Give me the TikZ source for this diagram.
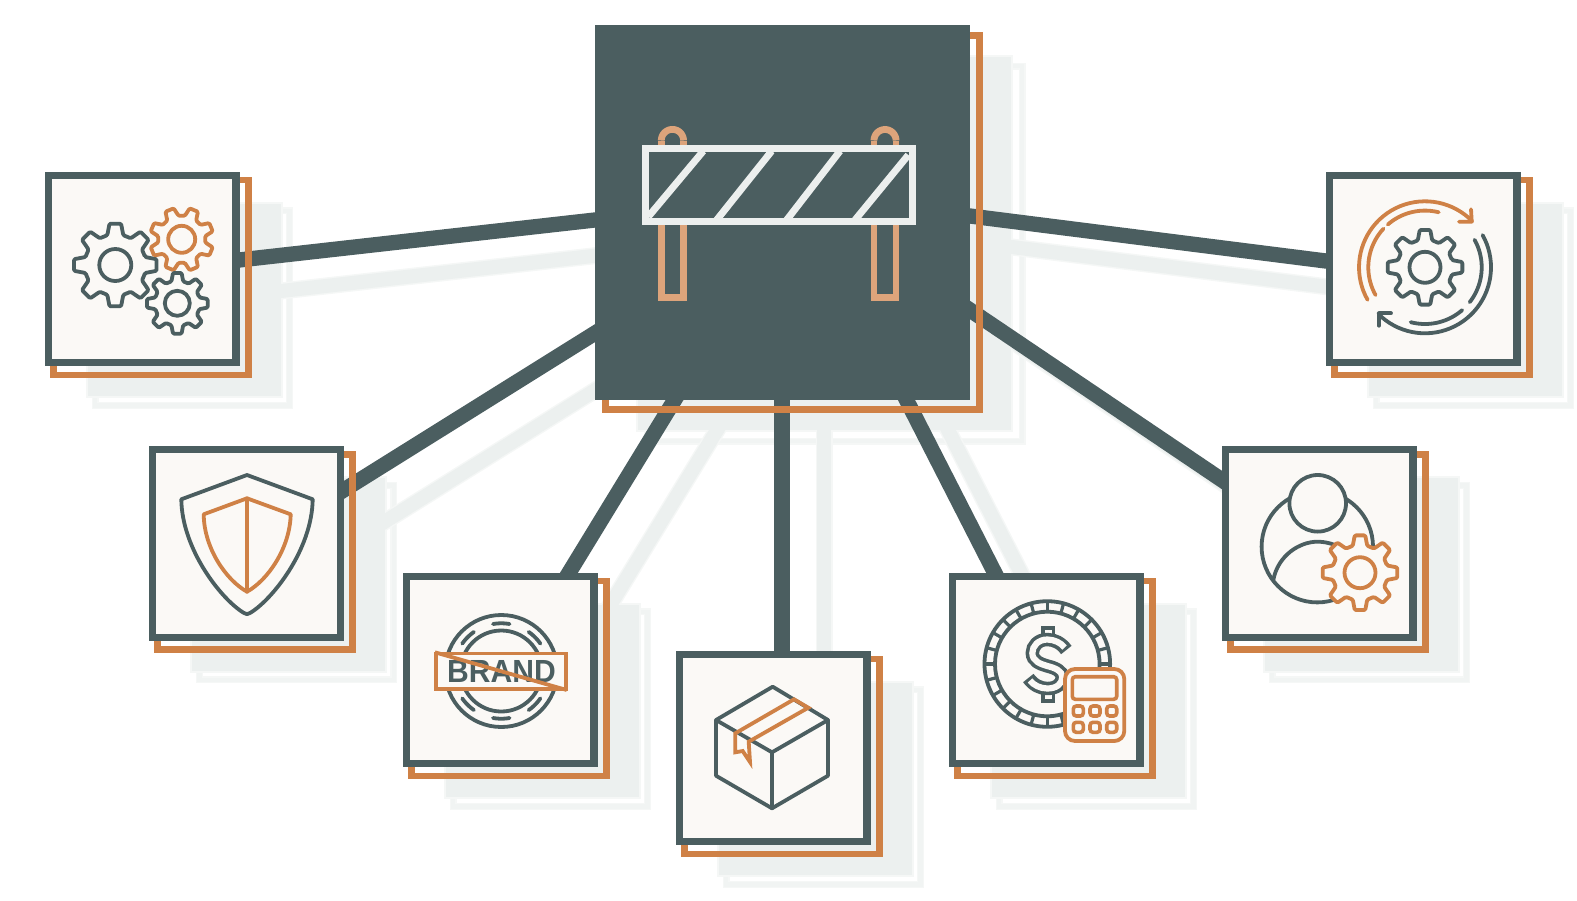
\documentclass[tikz,border=0pt]{standalone}
\usepackage{fontspec}
\setmainfont{Liberation Sans}
\usetikzlibrary{calc}
\definecolor{slate}{HTML}{4B5E60}
\definecolor{rust}{HTML}{CF8146}
\definecolor{tan}{HTML}{DDA47B}
\definecolor{cream}{HTML}{FBF9F6}
\definecolor{pale}{HTML}{ECF0EF}
\definecolor{paler}{HTML}{F1F4F3}
\definecolor{softedge}{HTML}{F5F7F6}
\definecolor{ice}{HTML}{ECEFEE}
\pgfdeclarelayer{bg}
\pgfsetlayers{bg,main}
\tikzset{
  card/.style={rectangle,draw=slate,fill=cream,line width=7.2pt,minimum size=187.3pt,inner sep=0pt},
  hubbox/.style={rectangle,fill=slate,minimum size=375pt,inner sep=0pt,outer sep=0pt},
  link/.style={draw=slate,line width=15.3pt},
  shadelink/.style={draw=pale,line width=14pt},
  softlink/.style={draw=softedge,line width=17pt},
  ink/.style={draw=slate,line width=3.8pt,line join=round,line cap=round},
  rustink/.style={draw=rust,line width=3.8pt,line join=round,line cap=round},
  offset frame/.style={draw=rust,line width=6.6pt}
}
% gear: cx, cy, outer radius, hole radius, rotation, style
\newcommand\cog[6]{%
  \begin{scope}[shift={(#1,#2)}]
    \draw[#6,fill=cream,rounded corners=1.2pt]
      (#5-15:0.74*#3) \foreach \a in {0,45,...,315} {
        -- (\a+#5-15:0.74*#3) -- (\a+#5-8:#3) -- (\a+#5+8:#3) -- (\a+#5+15:0.74*#3)
      } -- cycle;
    \draw[#6] (0,0) circle[radius=#4pt];
  \end{scope}}
% arc as plot: style, cx, cy, r, from, to
\newcommand\bow[6]{\draw[#1] plot[variable=\t,domain=#5:#6,samples=40] ({#2+#4*cos(\t)},{#3+#4*sin(\t)});}
% all connectors in one style, shifted
\newcommand\alllinks[2]{%
  \draw[#1] ($(gears.east)+(-14.5,-7.4)+(#2)$) -- ($(hub.west)+(15,5.8)+(#2)$);
  \draw[#1] ($(shield.east)+(-14,-44.75)+(#2)$) -- ($(hub.west)+(15,111.25)+(#2)$);
  \draw[#1] ($(brand.north)+(58.25,17)+(#2)$) -- ($(hub.south)+(-98.8,-15)+(#2)$);
  \draw[#1] ($(box.north)+(8.65,10)+(#2)$) -- ($(hub.south)+(-0.5,-10)+(#2)$);
  \draw[#1] ($(coin.north)+(-42.95,17)+(#2)$) -- ($(hub.south)+(116.35,-15)+(#2)$);
  \draw[#1] ($(person.west)+(14,-53.95)+(#2)$) -- ($(hub.east)+(-15,87.4)+(#2)$);
  \draw[#1] ($(cycle.west)+(14,-6.2)+(#2)$) -- ($(hub.east)+(-15,1.6)+(#2)$);
}
\begin{document}
\begin{tikzpicture}[x=1pt,y=-1pt]
\useasboundingbox (0,0) rectangle (1577,900);

% main boxes
\node[hubbox] (hub) at (782.5,212.5) {};
\node[card] (gears) at (142.25,269) {};
\node[card] (shield) at (246.5,543.5) {};
\node[card] (brand) at (500.35,670) {};
\node[card] (box) at (773.35,748) {};
\node[card] (coin) at (1046.35,670) {};
\node[card] (person) at (1319.35,543.5) {};
\node[card] (cycle) at (1423.35,269) {};

\begin{pgfonlayer}{bg}
  % shadows
  \foreach \n in {gears,shield,brand,box,coin,person,cycle} {
    \draw[draw=softedge,line width=7pt] ($(\n.north west)+(50,39)$) rectangle ($(\n.south east)+(50,39)$);
    \draw[draw=paler,line width=4.5pt] ($(\n.north west)+(50,39)$) rectangle ($(\n.south east)+(50,39)$);
  }
  \draw[draw=softedge,line width=7pt] ($(hub.north west)+(52,41)$) rectangle ($(hub.south east)+(52,41)$);
  \draw[draw=paler,line width=4.5pt] ($(hub.north west)+(52,41)$) rectangle ($(hub.south east)+(52,41)$);
  \alllinks{softlink}{42,31}
  \foreach \n in {gears,shield,brand,box,coin,person,cycle} {
    \fill[pale,draw=softedge,line width=2pt] ($(\n.north west)+(42,31)$) rectangle ($(\n.south east)+(42,31)$);
  }
  \fill[pale,draw=softedge,line width=2pt] ($(hub.north west)+(42,31)$) rectangle ($(hub.south east)+(42,31)$);
  \alllinks{shadelink}{42,31}
  % connectors
  \alllinks{link}{0,0}
  % offset frames
  \foreach \n in {gears,shield,brand,box,coin,person,cycle} {
    \draw[offset frame] ($(\n.north west)+(8.25,8.25)$) rectangle ($(\n.south east)+(8.75,8.75)$);
  }
  \draw[offset frame] ($(hub.north west)+(10.25,10.25)$) rectangle ($(hub.south east)+(9.75,9.75)$);
\end{pgfonlayer}

% barrier
\begin{scope}[line width=6.8pt]
  \draw[tan] (661.3,225) -- (661.3,297.7) -- (683.5,297.7) -- (683.5,225);
  \draw[tan] (874,225) -- (874,297.7) -- (896,297.7) -- (896,225);
  \draw[tan] (661.3,146) -- (661.3,140.5);
  \draw[tan] (683.5,146) -- (683.5,140.5);
  \draw[tan] (874,146) -- (874,140.5);
  \draw[tan] (896,146) -- (896,140.5);
  \bow{tan}{672.4}{140.5}{11.1}{180}{360}
  \bow{tan}{885}{140.5}{11}{180}{360}
\end{scope}
\begin{scope}[line width=7pt]
  \draw[ice] (645,148.3) rectangle (912,221.7);
  \draw[ice] (648.3,216.7) -- (703.3,151);
  \draw[ice] (716.7,220) -- (771.7,151);
  \draw[ice] (786.7,220) -- (840,151);
  \draw[ice] (855,220) -- (908.3,155);
\end{scope}

% gears icon
\cog{115.3}{265}{41.7}{16}{0}{ink}
\cog{181.7}{239.3}{32}{13.5}{22.5}{rustink}
\cog{177.3}{303.3}{30.7}{12.5}{0}{ink}

% shield icon
\draw[ink] (247,475) -- (312.7,499.3) .. controls (312,550) and (272,600) .. (250,613) .. controls (248,614.5) and (246,614.5) .. (244,613) .. controls (222,600) and (182,550) .. (181.3,499.3) -- cycle;
\draw[rustink] (247,498.3) -- (290.7,514.3) .. controls (290,548) and (268,580) .. (247,591.7) .. controls (226,580) and (204,548) .. (203.7,514.3) -- cycle;
\draw[rustink] (247,498.3) -- (247,591.7);

% brand icon
\draw[ink] (501.3,671) circle[radius=56pt];
\draw[ink] (501.3,671) circle[radius=40.5pt];
\foreach \a in {0,45,...,315} {
  \bow{ink}{501.3}{671}{47.7}{\a-10}{\a+10}
}
\draw[draw=rust,line width=3.8pt,fill=cream] (436,653.5) rectangle (566,689);
\node[inner sep=0pt,text=slate,font=\fontsize{32}{32}\selectfont\bfseries,xscale=0.94] (brandword) at (501.5,671) {BRAND};
\draw[draw=rust,line width=3.8pt] (435,652.3) -- (566.7,690);

% box icon
\draw[ink] (772.7,686.7) -- (828,720) -- (772,752.3) -- (716,720) -- cycle;
\draw[ink] (716,720) -- (716,775.7) -- (772,808.3) -- (828,775.7) -- (828,720);
\draw[ink] (772,752.3) -- (772,808.3);
\draw[rustink,line join=miter,line cap=butt] (794,699.3) -- (808.3,707.7) -- (748.7,741.7) -- (750,762) -- (742.7,751) -- (735.3,752.3) -- (735.3,733.3) -- cycle;

% coin icon
\begin{scope}[shift={(1047.3,664)}]
  \draw[ink] (0,0) circle[radius=62.8pt];
  \draw[ink] (0,0) circle[radius=52.3pt];
  \foreach \a in {0,15,...,345} { \draw[draw=slate,line width=3.2pt] (\a:52.3) -- (\a:62.8); }
  \draw[draw=slate,line width=3.6pt,fill=cream] (-4.5,-36) rectangle (6,-26);
  \draw[draw=slate,line width=3.6pt,fill=cream] (-4.5,26) rectangle (6,37);
  \draw[draw=slate,line width=13.4pt] (19,-14) .. controls (14,-21) and (7,-24.5) .. (0,-24.5) .. controls (-9,-24.5) and (-15,-18) .. (-15,-11) .. controls (-15,-3) and (-7,0) .. (0,2) .. controls (8,4) and (15,7) .. (15,13) .. controls (15,20) and (9,24.5) .. (0,24.5) .. controls (-7,24.5) and (-14,21) .. (-19,14);
  \draw[draw=cream,line width=6.2pt,shorten <=3pt,shorten >=3pt] (19,-14) .. controls (14,-21) and (7,-24.5) .. (0,-24.5) .. controls (-9,-24.5) and (-15,-18) .. (-15,-11) .. controls (-15,-3) and (-7,0) .. (0,2) .. controls (8,4) and (15,7) .. (15,13) .. controls (15,20) and (9,24.5) .. (0,24.5) .. controls (-7,24.5) and (-14,21) .. (-19,14);
\end{scope}
\draw[draw=rust,line width=3.8pt,fill=cream,rounded corners=10pt] (1065,669) rectangle (1124.3,741);
\draw[draw=rust,line width=3.6pt,rounded corners=3pt] (1072.3,676.7) rectangle (1116.7,699.3);
\foreach \bx in {1078.3,1095,1111.7} {
  \foreach \by in {711,727.3} {
    \draw[draw=rust,line width=3.6pt,rounded corners=3pt] (\bx-5,\by-5) rectangle (\bx+5,\by+5);
  }
}

% person icon
\draw[ink] (1317.3,546.7) circle[radius=55.7pt];
\draw[ink,fill=cream] (1317.7,503.3) circle[radius=28.3pt];
\draw[ink] (1273.3,580) .. controls (1278,555) and (1300,541.7) .. (1317.3,541.7) .. controls (1326,541.7) and (1335,544) .. (1345,550);
\cog{1360}{572.7}{37.7}{15.5}{0}{rustink}

% cycle icon
\cog{1425}{267.3}{37.7}{15.5}{0}{ink}
\bow{rustink}{1425}{267.3}{66}{150.5}{315.6}
\bow{rustink}{1425}{267.3}{56.7}{150.7}{223}
\bow{rustink}{1425}{267.3}{56.7}{229}{284}
\draw[rustink] (1459,221.7) -- (1471.7,221.7) -- (1471,209.3);
\bow{ink}{1425}{267.3}{66}{330.8}{495}
\bow{ink}{1425}{267.3}{56.7}{331}{398}
\bow{ink}{1425}{267.3}{56.7}{409}{464.6}
\draw[ink] (1391,313.3) -- (1379,313.3) -- (1379,325.7);
\end{tikzpicture}
\end{document}
